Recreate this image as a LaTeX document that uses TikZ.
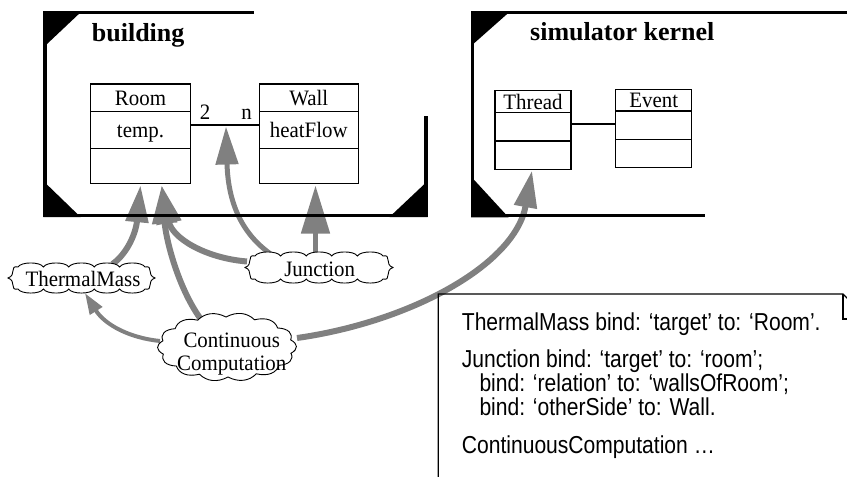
\documentclass[tikz,border=0pt]{standalone}
\usepackage{fontspec}
\setmainfont{Liberation Serif}
\newfontfamily\labelfont[FakeStretch=0.95]{Liberation Serif}
\newfontfamily\notefont[FakeStretch=0.86]{Liberation Sans}
\usetikzlibrary{arrows.meta,calc}
\pgfdeclarelayer{flows}
\pgfsetlayers{flows,main}

\tikzset{
  pkgedge/.style={line width=3.3pt},
  classbox/.style={draw, line width=1.1pt, fill=white, inner sep=0pt},
  classrule/.style={line width=1.1pt},
  cls/.style={font=\labelfont\fontsize{22}{24}\selectfont, inner sep=0pt, anchor=base},
  pkgtitle/.style={font=\fontsize{26}{30}\selectfont\bfseries, inner sep=0pt, anchor=base west},
  flow/.style={draw=gray, line width=6pt},
  cloudbox/.style={draw=none, inner sep=0pt},
  cloudline/.style={draw, line width=0.9pt, fill=white},
  noteedge/.style={line width=1.2pt},
  notetext/.style={font=\notefont\fontsize{24.5}{26}\selectfont, inner sep=0pt, anchor=base west},
}

% Flat wavy cloud round a node: #1 node, #2 half width, #3 half height,
% #4 bumps along the top, #5 bumps along the bottom, #6 depth of the brace-like ends
\newcommand\flatcloud[6]{%
  \pgfmathsetmacro\cltop{(2*#2-2*#6)/#4}%
  \pgfmathsetmacro\clbot{(2*#2-2*#6)/#5}%
  \draw[cloudline, shift={(#1)}]
    (-#2,0) .. controls ({-#2+#6-1},-3) and (-#2+1,{-#3+2}) .. ({-#2+#6},{-#3+4})
    \foreach \k in {1,...,#4} {
      .. controls ({-#2+#6+(\k-1)*\cltop+0.12*\cltop},{-#3-1.4})
             and ({-#2+#6+\k*\cltop-0.12*\cltop},{-#3-1.4})
          .. ({-#2+#6+\k*\cltop},{-#3+4})
    }
    .. controls (#2-1,{-#3+2}) and ({#2-#6+1},-3) .. (#2,0)
    .. controls ({#2-#6+1},3) and (#2-1,{#3-2}) .. ({#2-#6},{#3-4})
    \foreach \k in {1,...,#5} {
      .. controls ({#2-#6-(\k-1)*\clbot-0.12*\clbot},{#3+1.4})
             and ({#2-#6-\k*\clbot+0.12*\clbot},{#3+1.4})
          .. ({#2-#6-\k*\clbot},{#3-4})
    }
    .. controls (-#2+1,{#3-2}) and ({-#2+#6-1},3) .. cycle;%
}

% Round cloud: puffs set along an ellipse round a node
% #1 node, #2 half width, #3 half height, #4 number of puffs, #5 puff height
\newcommand\roundcloud[5]{%
  \pgfmathsetmacro\clstep{360/#4}%
  \draw[cloudline, shift={(#1)}]
    ({#2*cos(12)},{#3*sin(12)})
    \foreach \k in {1,...,#4} {
      .. controls ({(#2+#5)*cos(12+(\k-1)*\clstep+\clstep/3)},{(#3+#5)*sin(12+(\k-1)*\clstep+\clstep/3)})
             and ({(#2+#5)*cos(12+\k*\clstep-\clstep/3)},{(#3+#5)*sin(12+\k*\clstep-\clstep/3)})
          .. ({#2*cos(12+\k*\clstep)},{#3*sin(12+\k*\clstep)})
    } -- cycle;%
}

\begin{document}
\begin{tikzpicture}[x=1pt, y=-1pt]
\path[use as bounding box] (0,0) rectangle (847,477);
\clip (0,0) rectangle (847,477);

% ---- package "building" ----
\draw[pkgedge] (45,12.5) -- (254,12.5);
\draw[pkgedge] (45,11) -- (45,217);
\draw[pkgedge] (43.3,215.3) -- (427.7,215.3);
\draw[pkgedge] (426,116) -- (426,217);
\fill (43.3,11) -- (82,11) -- (43.3,47.5) -- cycle;
\fill (43.3,181) -- (43.3,217) -- (80.5,217) -- cycle;
\fill (389.5,217) -- (427.7,217) -- (427.7,181) -- cycle;
\node[pkgtitle] (bldtitle) at (91.7,41.7) {building};

% ---- package "simulator kernel" ----
\draw[pkgedge] (472.7,12.5) -- (847,12.5);
\draw[pkgedge] (472.7,11) -- (472.7,217);
\draw[pkgedge] (471,215.8) -- (705,215.8);
\fill (471,11) -- (510.5,11) -- (471,46) -- cycle;
\fill (471,176.5) -- (471,217.3) -- (508.5,217.3) -- cycle;
\node[pkgtitle] (kerneltitle) at (530,40) {simulator kernel};

% ---- classes ----
\node[classbox, minimum width=100pt, minimum height=99.7pt] (room) at (140.5,133.85) {};
\draw[classrule] (90.5,111.7) -- (190.5,111.7) (90.5,148.3) -- (190.5,148.3);
\node[cls] (roomname) at (140.5,105.3) {Room};
\node[cls] (roomattr) at (140.5,137.5) {temp.};

\node[classbox, minimum width=99pt, minimum height=99.7pt] (wall) at (308.8,133.85) {};
\draw[classrule] (259.3,111.7) -- (358.3,111.7) (259.3,148.3) -- (358.3,148.3);
\node[cls] (wallname) at (308.8,105.3) {Wall};
\node[cls] (wallattr) at (308.8,137.5) {heatFlow};

\draw[classrule] ($(room.east)+(0,-8.85)$) -- ($(wall.west)+(0,-8.85)$);
\node[cls] (mult2) at (205,119.3) {2};
\node[cls] (multn) at (246.7,119.3) {n};
\coordinate (assocmid) at (226,126.5);

\node[classbox, minimum width=76pt, minimum height=78.6pt] (thread) at (533,130) {};
\draw[classrule] (495,112.7) -- (571,112.7) (495,141) -- (571,141);
\node[cls] (threadname) at (533,109.3) {Thread};

\node[classbox, minimum width=76pt, minimum height=78.4pt] (event) at (653.7,128.5) {};
\draw[classrule] (615.7,111) -- (691.7,111) (615.7,139.3) -- (691.7,139.3);
\node[cls] (eventname) at (653.7,107.3) {Event};

\draw[classrule] ($(thread.east)+(0,-6)$) -- ($(event.west)+(0,-4.5)$);

% ---- clouds ----
\node[cloudbox, minimum width=147pt, minimum height=30pt] (tm) at (81.5,278) {};
\flatcloud{tm.center}{73.5}{15}{5}{5}{10}
\node[cls] (tmtext) at (83,286) {ThermalMass};

\node[cloudbox, minimum width=148pt, minimum height=31pt] (jn) at (319,267.5) {};
\flatcloud{jn.center}{74}{15.5}{5}{5}{10}
\node[cls] (jntext) at (319.7,276.7) {Junction};

\node[cloudbox, minimum width=140pt, minimum height=68pt] (cc) at (227,347) {};
\roundcloud{cc.center}{65.5}{30}{14}{6}
\node[cls] (cctext1) at (231.7,347.5) {Continuous};
\node[cls] (cctext2) at (231.7,370.5) {Computation};

% ---- flows ----
\begin{pgfonlayer}{flows}
\draw[flow, -{Triangle[length=37pt,width=22pt]}]
  ($(tm.center)+(31,-14)$) .. controls (128,253) and (136,232) .. ($(room.south)+(0,1)$);
\draw[flow, -{Triangle[length=38pt,width=24pt]}]
  ($(jn.center)+(-72,-6)$) .. controls (205,258) and (172,238) .. ($(room.south)+(21.2,1.3)$);
\draw[flow, -{Triangle[length=38pt,width=24pt]}]
  ($(cc.center)+(-27,-29)$) .. controls (178,287) and (166,240) .. ($(room.south)+(21.2,1.3)$);
\draw[flow, line width=5pt, -{Triangle[length=38pt,width=22pt]}]
  ($(jn.center)+(-49,-14)$) .. controls (240,232) and (228,200) .. (assocmid);
\draw[flow, line width=5pt, -{Triangle[length=48pt,width=28pt]}]
  ($(jn.center)+(-3.5,0)$) -- ($(wall.south)+(6.7,1.3)$);
\draw[flow, line width=4pt, -{Triangle[length=21pt,width=14pt]}]
  ($(cc.center)+(-67,-6)$) .. controls (130,338) and (105,325) .. ($(tm.south)+(3.5,0)$);
\draw[flow, -{Triangle[length=37pt,width=22pt]}]
  ($(cc.center)+(70,-9)$) .. controls (410,322) and (515,265) .. ($(thread.south)+(-1,0.7)$);
\end{pgfonlayer}

% ---- note ----
\draw[noteedge] (438.3,480) -- (438.3,294) -- (843,294) -- (868,319) -- (868,480);
\draw[noteedge] (843,294) -- (843,319) -- (868,319);
\node[notetext] (bind1) at (461.7,330) {ThermalMass bind: ‘target’ to: ‘Room’.};
\node[notetext] (bind2) at (461.7,367) {Junction bind: ‘target’ to: ‘room’;};
\node[notetext] (bind3) at (479.3,391) {bind: ‘relation’ to: ‘wallsOfRoom’;};
\node[notetext] (bind4) at (479.3,415) {bind: ‘otherSide’ to: Wall.};
\node[notetext] (bind5) at (461.7,453) {ContinuousComputation …};
\end{tikzpicture}
\end{document}
